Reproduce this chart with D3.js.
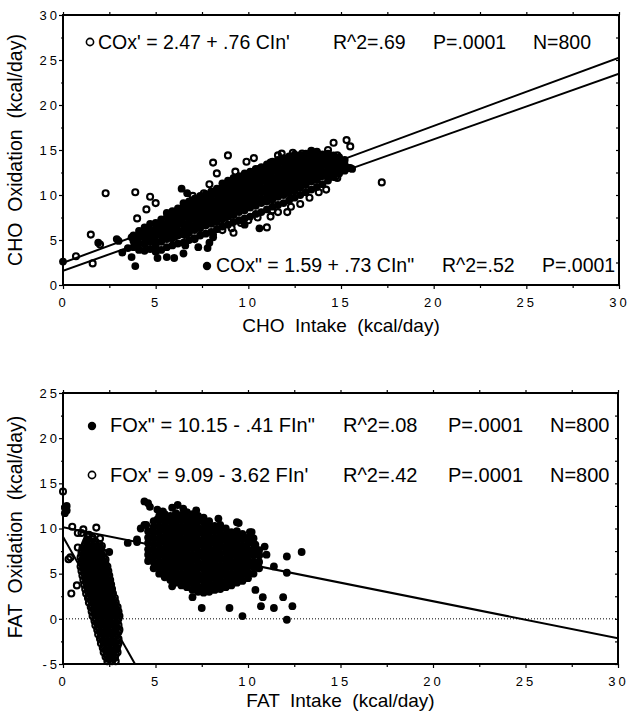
<!DOCTYPE html>
<html>
<head>
<meta charset="utf-8">
<script src="https://cdn.jsdelivr.net/npm/d3@7"></script>
<style>
  body { margin: 0; background: #fff; }
  text { font-family: "Liberation Sans", Arial, Helvetica, sans-serif; fill: #000; }
  .tick text { font-size: 13px; letter-spacing: 3px; }
</style>
</head>
<body>
<div id="chart"></div>
<script>
const width = 630, height = 718;

// tick values
const intakeTicks = [0, 5, 10, 15, 20, 25, 30];
const minorTicks = [2.5, 7.5, 12.5, 17.5, 22.5, 27.5];
const choOxTicks = [0, 5, 10, 15, 20, 25, 30];
const fatOxTicks = [-5, 0, 5, 10, 15, 20, 25];

// regression fits [intercept, slope]
const choFits = [[2.47, 0.76], [1.59, 0.73]];
const fatFits = [[10.15, -0.41], [9.09, -3.62]];

// legend texts
const choLegend = [
  ["open", "COx' = 2.47 + .76 CIn'", "R^2=.69", "P=.0001", "N=800"],
  ["filled", 'COx" = 1.59 + .73 CIn"', "R^2=.52", "P=.0001"]
];
const fatLegend = [
  ["filled", 'FOx" = 10.15 - .41 FIn"', "R^2=.08", "P=.0001", "N=800"],
  ["open", "FOx' = 9.09 - 3.62 FIn'", "R^2=.42", "P=.0001", "N=800"]
];

// CHO panel, filled points (COx" vs CIn"), dense part read as columns [x, [y...]]
const choFilledCloud = [
  [3.8,[4.2,4.9,5.5]],
  [4.1,[3.9,4.6,5.3,6.0]],
  [4.4,[3.8,4.5,5.2,5.8,6.4]],
  [4.7,[4.0,4.8,5.4,6.1,6.8]],
  [5.0,[3.7,4.4,4.9,5.6,6.2,6.9]],
  [5.3,[3.9,4.8,5.5,6.0,6.7,7.3]],
  [5.6,[4.2,5.1,5.6,6.3,6.8,7.5,8.0]],
  [5.9,[4.4,5.2,5.9,6.4,7.1,7.6,8.2]],
  [6.2,[4.6,5.5,6.0,6.7,7.2,7.9,8.5]],
  [6.5,[4.7,5.6,6.1,6.8,7.5,8.0,8.7,9.1]],
  [6.8,[5.0,5.8,6.5,7.0,7.7,8.3,8.9,9.3]],
  [7.1,[5.2,6.1,6.6,7.3,7.9,8.5,9.2,9.6]],
  [7.4,[5.5,6.3,7.0,7.5,8.2,8.7,9.4,9.9]],
  [7.7,[5.7,6.6,7.1,7.8,8.3,9.0,9.6,10.1]],
  [8.0,[5.9,6.8,7.4,8.0,8.7,9.2,9.9,10.4]],
  [8.3,[6.2,7.0,7.7,8.2,8.9,9.4,10.1,10.7]],
  [8.6,[6.5,7.3,8.0,8.5,9.2,9.7,10.4,10.9,11.3]],
  [8.9,[6.7,7.6,8.1,8.8,9.3,10.0,10.5,11.2,11.6]],
  [9.2,[7.0,7.8,8.5,9.0,9.7,10.2,10.9,11.4,11.9]],
  [9.5,[7.2,8.1,8.6,9.3,9.8,10.5,11.0,11.7,12.1]],
  [9.8,[7.4,8.3,9.0,9.5,10.2,10.7,11.4,11.9,12.4]],
  [10.1,[7.6,8.6,9.1,9.8,10.3,11.0,11.5,12.1,12.6]],
  [10.4,[7.9,8.8,9.5,10.0,10.7,11.2,11.9,12.4,12.9]],
  [10.7,[8.1,9.1,9.6,10.3,10.8,11.5,12.0,12.7,13.1]],
  [11.0,[8.4,9.3,9.8,10.5,11.0,11.7,12.2,12.9,13.4]],
  [11.3,[8.7,9.5,10.2,10.7,11.4,11.9,12.6,13.2,13.7]],
  [11.6,[8.9,9.8,10.3,11.0,11.5,12.2,12.7,13.4,13.9]],
  [11.9,[9.1,10.0,10.5,11.2,11.7,12.4,12.9,13.6,14.1]],
  [12.2,[9.4,10.2,10.9,11.4,12.1,12.6,13.3,13.8,14.3]],
  [12.5,[9.7,10.5,11.2,11.7,12.4,12.9,13.6,14.1,14.5]],
  [12.8,[10.0,10.8,11.5,12.0,12.7,13.2,13.9,14.4]],
  [13.1,[10.3,11.1,11.8,12.3,13.0,13.5,14.2,14.6]],
  [13.4,[10.6,11.5,12.0,12.7,13.2,13.9,14.4,14.8]],
  [13.7,[10.9,11.7,12.4,12.9,13.6,14.1,14.7]],
  [14.0,[11.2,12.1,12.6,13.3,13.8,14.5]],
  [14.3,[11.6,12.3,13.0,13.5,14.2,14.6]],
  [14.6,[12.0,12.7,13.2,13.9,14.4]],
  [14.9,[12.4,13.0,13.7,14.2]],
  [15.2,[12.7,13.4,13.9]],
  [15.5,[13.0]]
];
const choFilledOther = [
  [0,2.6],[1.9,4.7],[2.9,5.1],[3.0,4.9],[3.2,3.6],[3.7,3.1],[3.9,2.1],[3.5,4.1],[3.7,5.3],
  [5.1,3.0],[5.6,3.1],[6.0,3.0],[6.5,3.5],[6.6,4.4],[7.3,4.2],[7.8,4.1],[7.9,4.7],[8.1,5.3],
  [8.1,5.6],[9.8,6.7],[10.6,6.3],[6.4,10.7],[6.7,10.2],[15.4,13.0],[15.6,12.9]
];
// CHO panel, open points (COx' vs CIn')
const choOpen = [
  [0.7,3.2],[1.5,5.6],[1.6,2.4],[2.0,4.5],[2.3,10.2],[3.9,10.3],[4.0,7.4],[4.5,8.4],[4.7,9.8],
  [5.0,9.1],[6.0,4.8],[6.7,5.0],[7.1,5.1],[7.0,9.9],[7.6,10.2],[7.9,11.2],[8.1,13.6],[8.3,12.4],
  [8.9,14.4],[9.3,12.6],[9.9,13.7],[10.3,14.1],[8.6,6.1],[9.0,7.0],[9.2,5.8],[9.1,6.3],[9.6,6.9],
  [10.0,7.2],[10.5,7.5],[11.0,6.4],[11.2,7.6],[11.3,8.3],[11.6,8.1],[12.1,8.1],[12.3,8.7],
  [12.8,9.0],[10.6,12.9],[10.8,13.0],[11.2,13.6],[11.6,14.4],[11.8,14.6],[12.4,14.7],[12.9,14.6],
  [13.4,14.9],[13.7,14.8],[14.3,15.0],[13.3,9.7],[13.8,10.3],[14.2,10.6],[14.7,12.0],[14.8,11.9],
  [14.6,15.8],[15.3,16.1],[15.5,15.4],[14.8,14.4],[15.1,13.6],[14.9,13.9],[17.2,11.4]
];

// FAT panel, filled points (FOx" vs FIn"), dense part as columns [x, [y...]]
const fatFilledCloud = [
  [4.6,[6.4,7.1,7.7,8.4,9.0,9.7]],
  [4.9,[5.6,6.3,6.9,7.6,8.2,8.9,9.5,10.2,10.8]],
  [5.2,[5.0,5.7,6.3,7.0,7.6,8.3,8.9,9.6,10.2,10.9,11.4]],
  [5.5,[4.6,5.2,5.9,6.5,7.2,7.8,8.5,9.1,9.8,10.4,11.1,11.6]],
  [5.8,[4.3,4.9,5.6,6.2,6.9,7.5,8.2,8.8,9.5,10.1,10.8,11.4]],
  [6.1,[4.0,4.6,5.3,5.9,6.6,7.2,7.9,8.5,9.2,9.8,10.5,11.1,11.7]],
  [6.4,[3.7,4.4,5.0,5.7,6.3,7.0,7.6,8.3,8.9,9.6,10.2,10.9,11.5]],
  [6.7,[3.5,4.1,4.8,5.4,6.1,6.7,7.4,8.0,8.7,9.3,10.0,10.6,11.3,11.8]],
  [7.0,[3.2,3.9,4.5,5.2,5.8,6.5,7.1,7.8,8.4,9.1,9.7,10.4,11.0,11.6]],
  [7.3,[3.0,3.6,4.3,4.9,5.6,6.2,6.9,7.5,8.2,8.8,9.5,10.1,10.8,11.4]],
  [7.6,[2.9,3.5,4.2,4.8,5.5,6.1,6.8,7.4,8.1,8.7,9.4,10.0,10.7,11.2]],
  [7.9,[3.0,3.7,4.3,5.0,5.6,6.3,6.9,7.6,8.2,8.9,9.5,10.2,10.8]],
  [8.2,[3.2,3.8,4.5,5.1,5.8,6.4,7.1,7.7,8.4,9.0,9.7,10.3]],
  [8.5,[3.3,4.0,4.6,5.3,5.9,6.6,7.2,7.9,8.5,9.2,9.8,10.4]],
  [8.8,[3.5,4.1,4.8,5.4,6.1,6.7,7.4,8.0,8.7,9.3,10.0]],
  [9.1,[3.7,4.4,5.0,5.7,6.3,7.0,7.6,8.3,8.9,9.6]],
  [9.4,[4.0,4.6,5.3,5.9,6.6,7.2,7.9,8.5,9.2,9.7]],
  [9.7,[4.2,4.9,5.5,6.2,6.8,7.5,8.1,8.8,9.4]],
  [10.0,[4.5,5.1,5.8,6.4,7.1,7.7,8.4,9.0]],
  [10.3,[5.0,5.7,6.3,7.0,7.6,8.3,8.9]],
  [10.6,[5.6,6.3,7.0,7.6]]
];
const fatFilledOther = [
  [0.1,12.3],[0.2,12.0],[0.1,11.7],[0.2,12.5],[2.5,7.4],[3.5,8.4],[4.0,8.5],[4.0,8.8],[4.2,10.0],
  [4.4,13.0],[4.6,12.8],[4.7,12.4],[5.1,12.1],[5.4,11.9],[5.9,12.3],[6.2,12.6],[6.5,12.2],[7.2,12.0],
  [8.4,11.1],[9.4,10.7],[9.5,10.6],[10.1,9.6],[10.2,9.6],[10.4,8.2],[10.9,8.0],[10.6,7.1],[11.0,7.1],
  [12.1,6.9],[12.9,7.4],[11.4,5.8],[12.1,5.1],[4.4,10.4],[4.5,10.4],[5.1,11.0],[7.0,2.4],[7.5,1.2],
  [9.0,1.2],[9.7,0.3],[10.7,1.4],[11.4,1.2],[11.9,2.4],[12.4,1.4],[12.1,-0.1],[5.9,3.6],[10.4,3.2],
  [10.8,2.4]
];
// FAT panel, open points (FOx' vs FIn'), dense part as rows [y, [x...]]
const fatOpenCloud = [
  [8.8,[1.3,1.6]],
  [8.55,[1.25,1.5,1.75]],
  [8.3,[1.2,1.45,1.7,1.95]],
  [8.05,[1.15,1.4,1.65,1.9,2.1]],
  [7.8,[1.05,1.3,1.55,1.8,2.05]],
  [7.55,[1.05,1.3,1.55,1.8,2.05]],
  [7.3,[1.0,1.25,1.5,1.75,2.0,2.2]],
  [7.05,[1.1,1.35,1.6,1.85,2.1]],
  [6.8,[0.95,1.2,1.45,1.7,1.95,2.2]],
  [6.55,[1.05,1.3,1.55,1.8,2.05,2.3]],
  [6.3,[1.0,1.25,1.5,1.75,2.0,2.25]],
  [6.05,[1.1,1.35,1.6,1.85,2.1,2.3]],
  [5.8,[0.95,1.2,1.45,1.7,1.95,2.2,2.4]],
  [5.55,[1.1,1.35,1.6,1.85,2.1,2.35]],
  [5.3,[1.0,1.25,1.5,1.75,2.0,2.25,2.45]],
  [5.05,[1.15,1.4,1.65,1.9,2.15,2.4]],
  [4.8,[1.05,1.3,1.55,1.8,2.05,2.3,2.5]],
  [4.55,[1.2,1.45,1.7,1.95,2.2,2.45]],
  [4.3,[1.1,1.35,1.6,1.85,2.1,2.35,2.55]],
  [4.05,[1.25,1.5,1.75,2.0,2.25,2.5]],
  [3.8,[1.15,1.4,1.65,1.9,2.15,2.4,2.6]],
  [3.55,[1.3,1.55,1.8,2.05,2.3,2.55]],
  [3.3,[1.2,1.45,1.7,1.95,2.2,2.45,2.65]],
  [3.05,[1.35,1.6,1.85,2.1,2.35,2.6]],
  [2.8,[1.25,1.5,1.75,2.0,2.25,2.5,2.7]],
  [2.55,[1.4,1.65,1.9,2.15,2.4,2.65]],
  [2.3,[1.35,1.6,1.85,2.1,2.35,2.6,2.8]],
  [2.05,[1.5,1.75,2.0,2.25,2.5,2.75]],
  [1.8,[1.4,1.65,1.9,2.15,2.4,2.65,2.85]],
  [1.55,[1.55,1.8,2.05,2.3,2.55,2.8]],
  [1.3,[1.5,1.75,2.0,2.25,2.5,2.75,2.95]],
  [1.05,[1.65,1.9,2.15,2.4,2.65,2.9]],
  [0.8,[1.55,1.8,2.05,2.3,2.55,2.8,3.0]],
  [0.55,[1.7,1.95,2.2,2.45,2.7,2.95]],
  [0.3,[1.6,1.85,2.1,2.35,2.6,2.85,3.05]],
  [0.05,[1.75,2.0,2.25,2.5,2.75,3.0]],
  [-0.2,[1.7,1.95,2.2,2.45,2.7,2.95]],
  [-0.45,[1.85,2.1,2.35,2.6,2.85]],
  [-0.7,[1.75,2.0,2.25,2.5,2.75,3.0]],
  [-0.95,[1.9,2.15,2.4,2.65,2.9]],
  [-1.2,[1.85,2.1,2.35,2.6,2.85,3.05]],
  [-1.45,[2.0,2.25,2.5,2.75,3.0]],
  [-1.7,[1.9,2.15,2.4,2.65,2.9]],
  [-1.95,[2.05,2.3,2.55,2.8]],
  [-2.2,[2.0,2.25,2.5,2.75,3.0]],
  [-2.45,[2.15,2.4,2.65,2.9]],
  [-2.7,[2.05,2.3,2.55,2.8,3.0]],
  [-2.95,[2.2,2.45,2.7,2.95]],
  [-3.2,[2.15,2.4,2.65,2.9]],
  [-3.45,[2.3,2.55,2.8]],
  [-3.7,[2.2,2.45,2.7,2.95]],
  [-3.95,[2.35,2.6,2.85]],
  [-4.2,[2.3,2.55,2.8]],
  [-4.45,[2.45,2.7]],
  [-4.7,[2.4,2.65,2.85]]
];
const fatOpenOther = [
  [0,14.1],[0.5,10.2],[0.8,9.5],[1.0,9.5],[1.1,9.9],[1.35,9.1],[1.4,9.3],[1.8,10.1],[1.6,9.0],
  [2.0,8.9],[0.4,6.8],[0.3,6.6],[0.75,3.7],[0.45,2.8],[0.8,7.9],[2.9,-3.4],[2.8,-4.3],[2.5,-4.4]
];

const cols = list => list.flatMap(([x, ys]) => ys.map(y => [x, y]));
const rows = list => list.flatMap(([y, xs]) => xs.map(x => [x, y]));

const svg = d3.select("#chart").append("svg")
  .attr("width", width).attr("height", height);

function styleTicks(g) {
  g.attr("font-size", null).attr("font-family", null);
  g.select(".domain").remove();
  g.selectAll(".tick line").attr("stroke", "#000").attr("stroke-width", 1.2);
  g.selectAll(".tick text").attr("fill", "#000");
}

function drawPanel(o) {
  const x = d3.scaleLinear().domain([0, 30]).range([o.left, o.right]);
  const y = d3.scaleLinear().domain(o.yDomain).range([o.bottom, o.top]);
  const g = svg.append("g");
  const yMinor = d3.range(o.yDomain[0] + 2.5, o.yDomain[1], 5);

  // axes ticks
  g.append("g").attr("transform", `translate(0,${o.bottom})`)
    .call(d3.axisBottom(x).tickValues(intakeTicks).tickSize(4).tickPadding(9))
    .call(styleTicks);
  g.append("g").attr("transform", `translate(0,${o.bottom})`)
    .call(d3.axisBottom(x).tickValues(minorTicks).tickSize(3).tickFormat(""))
    .call(styleTicks);
  g.append("g").attr("transform", `translate(${o.left},0)`)
    .call(d3.axisLeft(y).tickValues(o.yTicks).tickSize(4).tickPadding(-1)
      .tickFormat(d => d < 0 ? "-" + Math.abs(d) : d))
    .call(styleTicks);
  g.append("g").attr("transform", `translate(${o.left},0)`)
    .call(d3.axisLeft(y).tickValues(yMinor).tickSize(2).tickFormat(""))
    .call(styleTicks);
  g.append("g").attr("transform", `translate(0,${o.top})`)
    .call(d3.axisTop(x).tickValues(intakeTicks.concat(minorTicks)).tickSize(3).tickFormat(""))
    .call(styleTicks);
  g.append("g").attr("transform", `translate(${o.right},0)`)
    .call(d3.axisLeft(y).tickValues(o.yTicks.concat(yMinor)).tickSize(3).tickFormat(""))
    .call(styleTicks);

  // frame
  g.append("rect")
    .attr("x", o.left).attr("y", o.top)
    .attr("width", o.right - o.left).attr("height", o.bottom - o.top)
    .attr("fill", "none").attr("stroke", "#000").attr("stroke-width", 2);

  const clipId = "clip-" + o.id;
  svg.append("clipPath").attr("id", clipId).append("rect")
    .attr("x", o.left).attr("y", o.top)
    .attr("width", o.right - o.left).attr("height", o.bottom - o.top);

  if (o.zeroLine) {
    g.append("line")
      .attr("x1", x(0)).attr("x2", x(30)).attr("y1", y(0)).attr("y2", y(0))
      .attr("stroke", "#000").attr("stroke-width", 1).attr("stroke-dasharray", "1,2");
  }

  // regression lines
  const line = d3.line().x(d => x(d[0])).y(d => y(d[1]));
  g.append("g").attr("clip-path", `url(#${clipId})`)
    .selectAll("path").data(o.fits).join("path")
    .attr("d", ([a, b]) => line([[0, a], [30, a + 30 * b]]))
    .attr("fill", "none").attr("stroke", "#000").attr("stroke-width", 2);

  // points
  g.append("g").selectAll("circle").data(o.filled).join("circle")
    .attr("cx", d => x(d[0])).attr("cy", d => y(d[1]))
    .attr("r", 3.9).attr("fill", "#000");
  g.append("g").selectAll("circle").data(o.open).join("circle")
    .attr("cx", d => x(d[0])).attr("cy", d => y(d[1]))
    .attr("r", 3).attr("fill", "none").attr("stroke", "#000").attr("stroke-width", 2.1);

  // legend rows
  o.legend.forEach((row, i) => {
    const p = o.legendPos[i];
    if (row[0] === "open") {
      g.append("circle").attr("cx", p.mx).attr("cy", p.ty - 7).attr("r", 3.6)
        .attr("fill", "#fff").attr("stroke", "#000").attr("stroke-width", 1.6);
    } else {
      g.append("circle").attr("cx", p.mx).attr("cy", p.ty - 6).attr("r", 4.2).attr("fill", "#000");
    }
    row.slice(1).forEach((t, j) => {
      g.append("text").attr("x", p.xs[j]).attr("y", p.ty)
        .style("font-size", o.legendSize + "px").text(t);
    });
  });

  // axis titles
  g.append("text")
    .attr("x", (o.left + o.right) / 2).attr("y", o.xTitleY)
    .attr("text-anchor", "middle").style("font-size", "19px").style("white-space", "pre")
    .text(o.xTitle);
  g.append("text")
    .attr("transform", `translate(22,${o.yTitleY}) rotate(-90)`)
    .attr("text-anchor", "middle").style("font-size", "19.5px").style("white-space", "pre")
    .text(o.yTitle);
}

drawPanel({
  id: "cho", left: 63, right: 619, top: 15, bottom: 285,
  yDomain: [0, 30], yTicks: choOxTicks, fits: choFits, zeroLine: false,
  filled: cols(choFilledCloud).concat(choFilledOther),
  open: choOpen,
  legend: choLegend, legendSize: 19.5,
  legendPos: [
    { mx: 90, ty: 49, xs: [98, 333, 433, 533] },
    { mx: 207, ty: 272, xs: [216, 442, 542] }
  ],
  xTitle: "CHO  Intake  (kcal/day)", xTitleY: 332,
  yTitle: "CHO  Oxidation  (kcal/day)", yTitleY: 150
});

drawPanel({
  id: "fat", left: 63, right: 618, top: 393, bottom: 664,
  yDomain: [-5, 25], yTicks: fatOxTicks, fits: fatFits, zeroLine: true,
  filled: cols(fatFilledCloud).concat(fatFilledOther),
  open: rows(fatOpenCloud).concat(fatOpenOther),
  legend: fatLegend, legendSize: 20,
  legendPos: [
    { mx: 92, ty: 432, xs: [110, 343, 448, 550] },
    { mx: 92, ty: 482, xs: [110, 343, 448, 550] }
  ],
  xTitle: "FAT  Intake  (kcal/day)", xTitleY: 707,
  yTitle: "FAT  Oxidation  (kcal/day)", yTitleY: 527
});
</script>
</body>
</html>
